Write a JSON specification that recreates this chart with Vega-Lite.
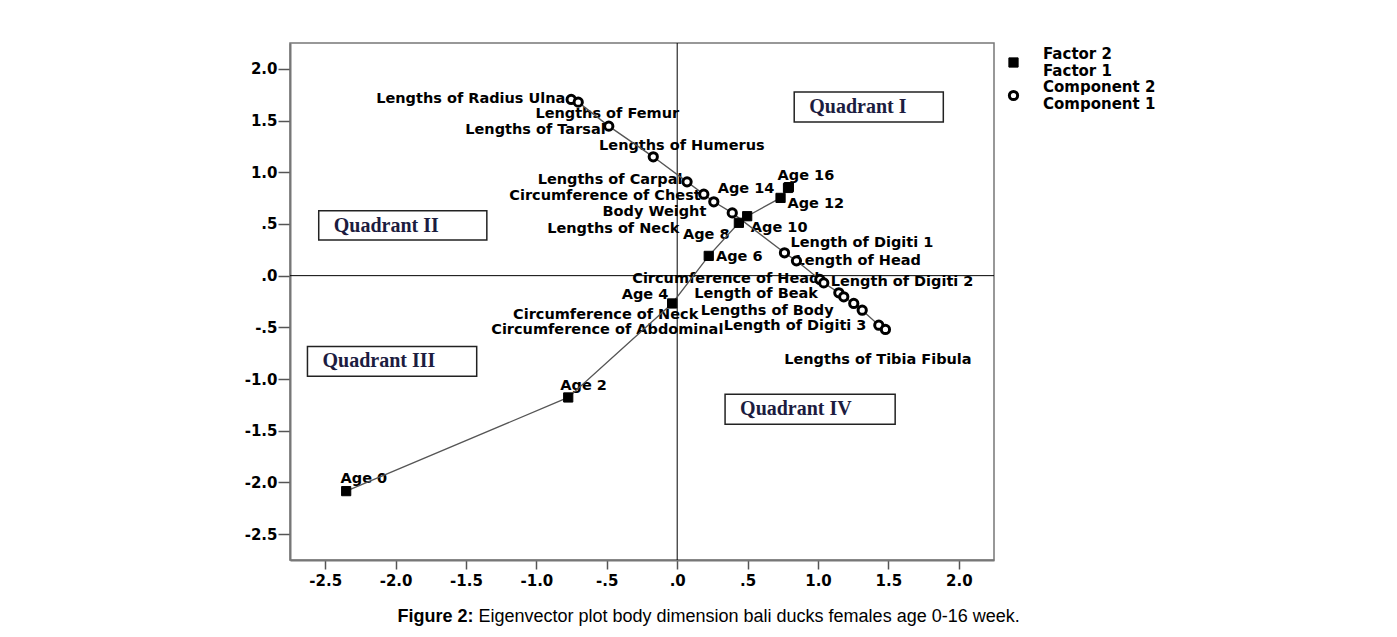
{
  "$schema": "https://vega.github.io/schema/vega-lite/v6.json",
  "width": 704,
  "height": 517,
  "autosize": {"type": "none"},
  "padding": {"left": 290, "top": 43, "right": 403, "bottom": 77},
  "background": "white",
  "datasets": {
    "points": [
      {"series": "Component", "name": "Lengths of Radius Ulna", "x": -0.753, "y": 1.704, "lx": -0.794, "ly": 1.704, "anchor": "end"},
      {"series": "Component", "name": "Lengths of Femur", "x": -0.703, "y": 1.678, "lx": -1.007, "ly": 1.56, "anchor": "start"},
      {"series": "Component", "name": "Lengths of Tarsal", "x": -0.486, "y": 1.446, "lx": -0.508, "ly": 1.407, "anchor": "end"},
      {"series": "Component", "name": "Lengths of Humerus", "x": -0.17, "y": 1.149, "lx": -0.555, "ly": 1.252, "anchor": "start"},
      {"series": "Component", "name": "Lengths of Carpal", "x": 0.07, "y": 0.907, "lx": 0.037, "ly": 0.924, "anchor": "end"},
      {"series": "Component", "name": "Circumference of Chest", "x": 0.189, "y": 0.788, "lx": 0.167, "ly": 0.775, "anchor": "end"},
      {"series": "Component", "name": "Body Weight", "x": 0.26, "y": 0.714, "lx": 0.207, "ly": 0.62, "anchor": "end"},
      {"series": "Component", "name": "Lengths of Neck", "x": 0.391, "y": 0.607, "lx": 0.016, "ly": 0.455, "anchor": "end"},
      {"series": "Component", "name": "Length of Digiti 1", "x": 0.762, "y": 0.221, "lx": 0.805, "ly": 0.314, "anchor": "start"},
      {"series": "Component", "name": "Length of Head", "x": 0.847, "y": 0.143, "lx": 0.84, "ly": 0.143, "anchor": "start"},
      {"series": "Component", "name": "Circumference of Head", "x": 1.013, "y": -0.037, "lx": 1.01, "ly": -0.028, "anchor": "end"},
      {"series": "Component", "name": "Length of Digiti 2", "x": 1.041, "y": -0.07, "lx": 1.09, "ly": -0.066, "anchor": "start"},
      {"series": "Component", "name": "Length of Beak", "x": 1.148, "y": -0.166, "lx": 1.0, "ly": -0.18, "anchor": "end"},
      {"series": "Component", "name": "Circumference  of Neck", "x": 1.183, "y": -0.205, "lx": 0.15, "ly": -0.382, "anchor": "end"},
      {"series": "Component", "name": "Circumference of Abdominal", "x": 1.254, "y": -0.269, "lx": 0.328, "ly": -0.53, "anchor": "end"},
      {"series": "Component", "name": "Lengths of Body", "x": 1.314, "y": -0.334, "lx": 0.167, "ly": -0.342, "anchor": "start"},
      {"series": "Component", "name": "Length of Digiti 3", "x": 1.432, "y": -0.479, "lx": 0.33, "ly": -0.49, "anchor": "start"},
      {"series": "Component", "name": "Lengths of Tibia Fibula", "x": 1.479, "y": -0.52, "lx": 0.76, "ly": -0.815, "anchor": "start"},
      {"series": "Factor", "name": "Age 0", "x": -2.351, "y": -2.084, "lx": -2.391, "ly": -1.971, "anchor": "start"},
      {"series": "Factor", "name": "Age 2", "x": -0.774, "y": -1.178, "lx": -0.83, "ly": -1.067, "anchor": "start"},
      {"series": "Factor", "name": "Age 4", "x": -0.036, "y": -0.269, "lx": -0.063, "ly": -0.184, "anchor": "end"},
      {"series": "Factor", "name": "Age 6", "x": 0.224, "y": 0.191, "lx": 0.275, "ly": 0.185, "anchor": "start"},
      {"series": "Factor", "name": "Age 8", "x": 0.438, "y": 0.511, "lx": 0.372, "ly": 0.39, "anchor": "end"},
      {"series": "Factor", "name": "Age 10", "x": 0.497, "y": 0.575, "lx": 0.523, "ly": 0.465, "anchor": "start"},
      {"series": "Factor", "name": "Age 12", "x": 0.734, "y": 0.752, "lx": 0.783, "ly": 0.69, "anchor": "start"},
      {"series": "Factor", "name": "Age 14", "x": 0.787, "y": 0.848, "lx": 0.69, "ly": 0.84, "anchor": "end"},
      {"series": "Factor", "name": "Age 16", "x": 0.793, "y": 0.856, "lx": 0.713, "ly": 0.962, "anchor": "start"}
    ],
    "boxes": [
      {"label": "Quadrant I", "x1": 0.831, "x2": 1.89, "ytop": 1.775, "ybot": 1.485},
      {"label": "Quadrant II", "x1": -2.546, "x2": -1.352, "ytop": 0.627, "ybot": 0.345},
      {"label": "Quadrant III", "x1": -2.626, "x2": -1.424, "ytop": -0.685, "ybot": -0.974},
      {"label": "Quadrant IV", "x1": 0.34, "x2": 1.548, "ytop": -1.147, "ybot": -1.436}
    ]
  },
  "layer": [
    {
      "data": {"name": "boxes"},
      "mark": {"type": "rect", "fill": "white", "stroke": "#222222", "strokeWidth": 1.5},
      "encoding": {
        "x": {
          "field": "x1", "type": "quantitative",
          "title": "Eigenvector plot body dimension bali ducks females age 0-16 week.",
          "scale": {"domain": [-2.75, 2.25], "nice": false, "zero": false},
          "axis": {
            "values": [-2.5, -2, -1.5, -1, -0.5, 0, 0.5, 1, 1.5, 2],
            "labelExpr": "(datum.value < 0 ? '-' : '') + (abs(datum.value) < 1 ? '.' + format(abs(datum.value) * 10, '.0f') : format(abs(datum.value), '.1f'))",
            "tickSize": 9, "labelPadding": 4,
            "titleX": 187.9, "titleY": 61, "titleAlign": "left", "titleBaseline": "alphabetic",
            "titleFont": "Liberation Sans", "titleFontSize": 18, "titleFontWeight": "normal", "titleColor": "black"
          }
        },
        "x2": {"field": "x2"},
        "y": {
          "field": "ytop", "type": "quantitative",
          "title": "Figure 2:",
          "scale": {"domain": [-2.75, 2.25], "nice": false, "zero": false},
          "axis": {
            "values": [-2.5, -2, -1.5, -1, -0.5, 0, 0.5, 1, 1.5, 2],
            "labelExpr": "(datum.value < 0 ? '-' : '') + (abs(datum.value) < 1 ? '.' + format(abs(datum.value) * 10, '.0f') : format(abs(datum.value), '.1f'))",
            "tickSize": 12, "labelPadding": 1,
            "titleAngle": 0, "titleX": 106.9, "titleY": 578, "titleAlign": "left", "titleBaseline": "alphabetic",
            "titleFont": "Liberation Sans", "titleFontSize": 18, "titleFontWeight": "bold", "titleColor": "black"
          }
        },
        "y2": {"field": "ybot"}
      }
    },
    {
      "data": {"name": "boxes"},
      "mark": {"type": "text", "align": "left", "baseline": "middle", "dx": 15, "dy": 15, "font": "Liberation Serif", "fontWeight": "bold", "fontSize": 20, "fill": "#1c1c40"},
      "encoding": {
        "x": {"field": "x1", "type": "quantitative", "title": "Eigenvector plot body dimension bali ducks females age 0-16 week.", "scale": {"domain": [-2.75, 2.25], "nice": false, "zero": false}},
        "y": {"field": "ytop", "type": "quantitative", "title": "Figure 2:", "scale": {"domain": [-2.75, 2.25], "nice": false, "zero": false}},
        "text": {"field": "label"}
      }
    },
    {
      "data": {"values": [{}]},
      "mark": {"type": "rule", "color": "black", "strokeWidth": 1},
      "encoding": {"x": {"datum": 0, "type": "quantitative", "title": "Eigenvector plot body dimension bali ducks females age 0-16 week.", "scale": {"domain": [-2.75, 2.25], "nice": false, "zero": false}}}
    },
    {
      "data": {"values": [{}]},
      "mark": {"type": "rule", "color": "black", "strokeWidth": 1},
      "encoding": {"y": {"datum": 0, "type": "quantitative", "title": "Figure 2:", "scale": {"domain": [-2.75, 2.25], "nice": false, "zero": false}}}
    },
    {
      "data": {"name": "points"},
      "transform": [{"filter": "datum.anchor == 'end'"}],
      "mark": {"type": "text", "align": "right", "baseline": "middle", "font": "DejaVu Sans", "fontWeight": "bold", "fontSize": 14.5, "fill": "black"},
      "encoding": {
        "x": {"field": "lx", "type": "quantitative", "title": "Eigenvector plot body dimension bali ducks females age 0-16 week.", "scale": {"domain": [-2.75, 2.25], "nice": false, "zero": false}},
        "y": {"field": "ly", "type": "quantitative", "title": "Figure 2:", "scale": {"domain": [-2.75, 2.25], "nice": false, "zero": false}},
        "text": {"field": "name"}
      }
    },
    {
      "data": {"name": "points"},
      "transform": [{"filter": "datum.anchor == 'start'"}],
      "mark": {"type": "text", "align": "left", "baseline": "middle", "font": "DejaVu Sans", "fontWeight": "bold", "fontSize": 14.5, "fill": "black"},
      "encoding": {
        "x": {"field": "lx", "type": "quantitative", "title": "Eigenvector plot body dimension bali ducks females age 0-16 week.", "scale": {"domain": [-2.75, 2.25], "nice": false, "zero": false}},
        "y": {"field": "ly", "type": "quantitative", "title": "Figure 2:", "scale": {"domain": [-2.75, 2.25], "nice": false, "zero": false}},
        "text": {"field": "name"}
      }
    },
    {
      "data": {"name": "points"},
      "mark": {"type": "line", "color": "#555555", "strokeWidth": 1.3},
      "encoding": {
        "x": {"field": "x", "type": "quantitative", "title": "Eigenvector plot body dimension bali ducks females age 0-16 week.", "scale": {"domain": [-2.75, 2.25], "nice": false, "zero": false}},
        "y": {"field": "y", "type": "quantitative", "title": "Figure 2:", "scale": {"domain": [-2.75, 2.25], "nice": false, "zero": false}},
        "detail": {"field": "series"}
      }
    },
    {
      "data": {"name": "points"},
      "mark": {"type": "point", "stroke": "black", "opacity": 1},
      "encoding": {
        "x": {"field": "x", "type": "quantitative", "title": "Eigenvector plot body dimension bali ducks females age 0-16 week.", "scale": {"domain": [-2.75, 2.25], "nice": false, "zero": false}},
        "y": {"field": "y", "type": "quantitative", "title": "Figure 2:", "scale": {"domain": [-2.75, 2.25], "nice": false, "zero": false}},
        "shape": {
          "field": "series", "type": "nominal",
          "scale": {"domain": ["Factor", "Component"], "range": ["square", "circle"]},
          "legend": {
            "title": null, "orient": "none", "legendX": 716, "legendY": 12,
            "labelExpr": "datum.label == 'Factor' ? ['Factor 2', '\u2002Factor 1'] : ['Component 2', '\u2002Component 1']",
            "labelFont": "DejaVu Sans", "labelFontWeight": "bold", "labelFontSize": 15, "labelColor": "black",
            "labelBaseline": "line-bottom",
            "labelOffset": 22, "rowPadding": 0, "symbolStrokeColor": "black", "labelLimit": 300
          }
        },
        "fill": {"field": "series", "type": "nominal", "scale": {"domain": ["Factor", "Component"], "range": ["black", "white"]}},
        "strokeWidth": {"field": "series", "type": "nominal", "scale": {"domain": ["Factor", "Component"], "range": [1, 3]}},
        "size": {"field": "series", "type": "nominal", "scale": {"domain": ["Factor", "Component"], "range": [85, 68]}}
      }
    }
  ],
  "config": {
    "view": {"stroke": "#777777", "strokeWidth": 1.5},
    "axis": {
      "grid": false, "labelFont": "DejaVu Sans", "labelFontWeight": "bold", "labelFontSize": 15, "labelColor": "black",
      "tickColor": "#555555", "tickWidth": 1.5, "domainColor": "#777777", "domainWidth": 2, "labelOverlap": false
    }
  }
}
